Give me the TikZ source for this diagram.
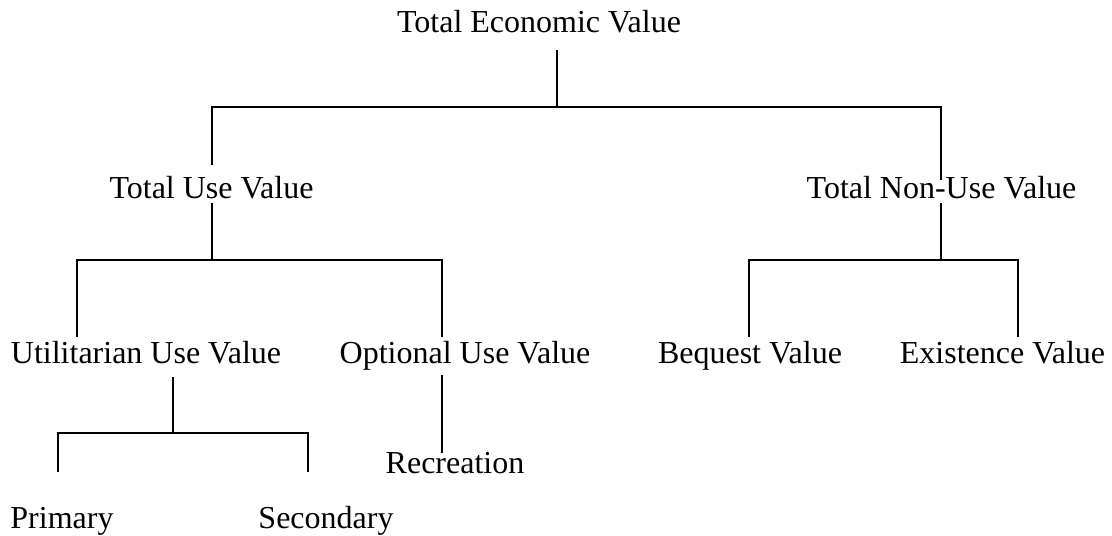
\documentclass[tikz,border=0pt]{standalone}
\usepackage{fontspec}
\setmainfont{Liberation Serif}

\begin{document}
\begin{tikzpicture}[x=0.5pt, y=-0.5pt, line width=0.75pt,
		lbl/.style={anchor=base, inner sep=0pt, font=\fontsize{16}{19}\selectfont}]
		\useasboundingbox (0,0) rectangle (1112,535);

		\node[lbl] (tev) at (539,33) {Total Economic Value};
		\node[lbl] (tuv) at (211.5,198) {Total Use Value};
		\node[lbl] (tnuv) at (941.5,198) {Total Non-Use Value};
		\node[lbl] (uuv) at (146,363) {Utilitarian Use Value};
		\node[lbl] (ouv) at (465,363) {Optional Use Value};
		\node[lbl] (bqv) at (750,363) {Bequest Value};
		\node[lbl] (exv) at (1002.5,363) {Existence Value};
		\node[lbl] (rec) at (455,473) {Recreation};
		\node[lbl] (pri) at (62,528) {Primary};
		\node[lbl] (sec) at (326,528) {Secondary};

		% line ends
		\coordinate (tev-s) at (557,50);
		\coordinate (tev-j) at (557,107);
		\coordinate (tuv-n) at (212,165);
		\coordinate (tuv-s) at (212,203);
		\coordinate (tuv-j) at (212,260);
		\coordinate (tnuv-n) at (941,180);
		\coordinate (tnuv-s) at (941,203);
		\coordinate (tnuv-j) at (941,260);
		\coordinate (uuv-n) at (77,337);
		\coordinate (uuv-s) at (173,377);
		\coordinate (uuv-j) at (173,433);
		\coordinate (ouv-n) at (442,337);
		\coordinate (ouv-s) at (442,375);
		\coordinate (rec-n) at (442,453);
		\coordinate (bqv-n) at (749,337);
		\coordinate (exv-n) at (1018,337);
		\coordinate (pri-n) at (58,472);
		\coordinate (sec-n) at (308,472);

		\draw (tev-s) -- (tev-j);
		\draw (tuv-n) |- (tev-j) -| (tnuv-n);
		\draw (tuv-s) -- (tuv-j);
		\draw (uuv-n) |- (tuv-j) -| (ouv-n);
		\draw (tnuv-s) -- (tnuv-j);
		\draw (bqv-n) |- (tnuv-j) -| (exv-n);
		\draw (uuv-s) -- (uuv-j);
		\draw (pri-n) |- (uuv-j) -| (sec-n);
		\draw (ouv-s) -- (rec-n);
	\end{tikzpicture}
\end{document}
